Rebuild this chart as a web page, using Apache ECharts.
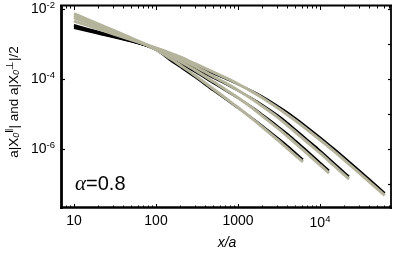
<!DOCTYPE html>
<html><head><meta charset="utf-8">
<script src="https://cdn.jsdelivr.net/npm/echarts@6/dist/echarts.min.js"></script>
<style>html,body{margin:0;padding:0;background:#fff}#c{width:395px;height:253px}</style>
</head><body><div id="c"></div>
<script>
// ---- data (x/a and amplitude values) ----
const x1 = [10,20,50,100,150,200,300,500,700,1000,1500,2000,3000,4000,5000,6200];
const x2 = [10,20,50,100,150,200,300,500,700,1000,1500,2000,3000,4000,5000,7000,10000,12900];
const x3 = [10,20,50,100,150,200,300,500,700,1000,1500,2000,3000,4000,5000,7000,10000,15000,20000,22600];
const x4 = [10,20,50,100,150,200,300,500,700,1000,1500,2000,3000,4000,5000,7000,10000,15000,20000,30000,50000,61700];

// perpendicular (grey) curves
const perp1 = [7.43e-3,3.71e-3,1.48e-3,6.92e-4,3.83e-4,2.43e-4,1.26e-4,5.18e-5,2.86e-5,1.53e-5,7.24e-6,4.17e-6,1.87e-6,1.04e-6,6.61e-7,4.26e-7];
const perp2 = [6.52e-3,3.40e-3,1.44e-3,7.29e-4,4.54e-4,3.12e-4,1.79e-4,8.43e-5,5.05e-5,2.92e-5,1.48e-5,8.65e-6,4.06e-6,2.31e-6,1.48e-6,7.40e-7,3.49e-7,2.06e-7];
const perp3 = [5.71e-3,3.10e-3,1.39e-3,7.48e-4,5.05e-4,3.72e-4,2.29e-4,1.19e-4,7.74e-5,4.79e-5,2.63e-5,1.64e-5,8.26e-6,4.75e-6,3.06e-6,1.56e-6,7.69e-7,3.27e-7,1.78e-7,1.39e-7];
const perp4 = [4.54e-3,2.67e-3,1.31e-3,7.69e-4,5.50e-4,4.23e-4,2.74e-4,1.58e-4,1.09e-4,7.19e-5,4.30e-5,2.87e-5,1.53e-5,9.53e-6,6.49e-6,3.56e-6,1.84e-6,8.41e-7,4.75e-7,2.09e-7,7.31e-8,4.71e-8];

// parallel (black) curves
const par1 = [3.49e-3,2.23e-3,1.23e-3,6.75e-4,3.40e-4,2.16e-4,1.12e-4,4.69e-5,2.68e-5,1.50e-5,7.53e-6,4.54e-6,2.13e-6,1.23e-6,7.79e-7,5.02e-7];
const par2 = [3.27e-3,2.13e-3,1.21e-3,7.06e-4,4.03e-4,2.77e-4,1.59e-4,7.64e-5,4.73e-5,2.86e-5,1.54e-5,9.42e-6,4.63e-6,2.72e-6,1.74e-6,8.72e-7,4.11e-7,2.43e-7];
const par3 = [3.06e-3,2.04e-3,1.19e-3,7.24e-4,4.48e-4,3.30e-4,2.03e-4,1.08e-4,7.24e-5,4.69e-5,2.74e-5,1.79e-5,9.42e-6,5.60e-6,3.61e-6,1.84e-6,9.07e-7,3.86e-7,2.10e-7,1.64e-7];
const par4 = [2.86e-3,1.95e-3,1.17e-3,7.53e-4,4.88e-4,3.76e-4,2.43e-4,1.43e-4,1.02e-4,7.05e-5,4.47e-5,3.13e-5,1.74e-5,1.12e-5,7.65e-6,4.20e-6,2.17e-6,9.92e-7,5.60e-7,2.46e-7,8.62e-8,5.55e-8];

// tick labels
const xTickValues = [10, 100, 1000, 10000];
const xTickLabels = ['10', '100', '1000', '{b|10}{s|4}'];
const yTickValues = [1e-6, 1e-4, 1e-2];
const yTickLabels = ['{b|10}{s|-6}', '{b|10}{s|-4}', '{b|10}{s|-2}'];

// ---- build ----
const L = Math.log10;
const xMin = 0.8415, xMax = 4.866, yMin = -7.686, yMax = -1.914;

function minorTicks(lo, hi) {
  const out = [];
  for (let n = Math.floor(lo) - 1; n <= Math.ceil(hi); n++) {
    for (let k = 1; k <= 9; k++) {
      const v = n + L(k);
      if (v > lo + 1e-6 && v < hi - 1e-6) out.push(v);
    }
  }
  return out;
}
function decades(lo, hi) {
  const out = [];
  for (let n = Math.ceil(lo); n <= Math.floor(hi); n++) out.push(n);
  return out;
}
const rich = {
  b: {fontSize: 14, fontFamily: 'Liberation Sans', color: '#000'},
  s: {fontSize: 9.5, fontFamily: 'Liberation Sans', color: '#000', padding: [0, 0, 8, 0]}
};
const xMajor = xTickValues.map(L), yMajor = yTickValues.map(L);

function xAxisDef(pos, customTicks, len, showLabel) {
  return {
    type: 'value', position: pos, min: xMin, max: xMax,
    axisLine: {show: false}, splitLine: {show: false},
    axisTick: {show: true, inside: true, length: len, customValues: customTicks, lineStyle: {color: '#000', width: 1}},
    axisLabel: showLabel ? {
      show: true, customValues: xMajor, margin: 6,
      formatter: v => { const i = xMajor.findIndex(t => Math.abs(t - v) < 1e-6); return i >= 0 ? xTickLabels[i] : ''; },
      fontSize: 14, fontFamily: 'Liberation Sans', color: '#000', rich: rich
    } : {show: false}
  };
}
function yAxisDef(pos, customTicks, len, showLabel) {
  return {
    type: 'value', position: pos, min: yMin, max: yMax,
    axisLine: {show: false}, splitLine: {show: false},
    axisTick: {show: true, inside: true, length: len, customValues: customTicks, lineStyle: {color: '#000', width: 1.2}},
    axisLabel: showLabel ? {
      show: true, customValues: yMajor, margin: 6,
      formatter: v => { const i = yMajor.findIndex(t => Math.abs(t - v) < 1e-6); return i >= 0 ? yTickLabels[i] : ''; },
      fontSize: 14, fontFamily: 'Liberation Sans', color: '#000', rich: rich
    } : {show: false}
  };
}

const GREY = '#b4b49c';
function series(xs, ys, color, w, z) {
  return {
    type: 'line', xAxisIndex: 0, yAxisIndex: 0, showSymbol: false, smooth: 0.3, z: z,
    lineStyle: {color: color, width: w, cap: 'butt'},
    data: xs.map((x, i) => [L(x), L(ys[i])])
  };
}

const chart = echarts.init(document.getElementById('c'), null, {renderer: 'canvas'});
chart.setOption({
  animation: false,
  backgroundColor: '#fff',
  grid: {left: 61, top: 6, width: 330, height: 202, show: true, borderWidth: 0},
  xAxis: [
    xAxisDef('bottom', xMajor, 4, true),
    xAxisDef('bottom', minorTicks(xMin, xMax), 2.5, false),
    xAxisDef('top', xMajor, 4, false),
    xAxisDef('top', minorTicks(xMin, xMax), 2.5, false)
  ],
  yAxis: [
    yAxisDef('left', yMajor, 4, true),
    yAxisDef('right', decades(yMin, yMax), 3, false)
  ],
  series: [
    series(x1, par1, '#000', 2, 2), series(x2, par2, '#000', 2, 2),
    series(x3, par3, '#000', 2, 2), series(x4, par4, '#000', 2, 2),
    series(x1, perp1, GREY, 3, 3), series(x2, perp2, GREY, 3, 3),
    series(x3, perp3, GREY, 3, 3), series(x4, perp4, GREY, 3, 3)
  ],
  graphic: [
    {type: 'line', shape: {x1: 60, y1: 207.5, x2: 392, y2: 207.5}, style: {stroke: '#000', lineWidth: 2.5}, z: 10},
    {type: 'line', shape: {x1: 61.5, y1: 5, x2: 61.5, y2: 209}, style: {stroke: '#000', lineWidth: 2.8}, z: 10},
    {type: 'line', shape: {x1: 60, y1: 5.5, x2: 392, y2: 5.5}, style: {stroke: '#000', lineWidth: 1.8}, z: 10},
    {type: 'line', shape: {x1: 391, y1: 5, x2: 391, y2: 209}, style: {stroke: '#000', lineWidth: 1.8}, z: 10},
    {type: 'text', x: 227, y: 243, style: {text: 'x/a', font: 'italic 14px "Liberation Sans"', fill: '#000', align: 'center', verticalAlign: 'middle'}},
    {type: 'text', x: 75, y: 184, style: {
      text: '{g|α}{n|=0.8}', fill: '#000', verticalAlign: 'middle', align: 'left',
      rich: {g: {fontFamily: 'Liberation Serif', fontStyle: 'italic', fontSize: 21, color: '#000'},
             n: {fontFamily: 'Liberation Sans', fontSize: 20, color: '#000'}}
    }},
    {type: 'text', x: 14, y: 102, rotation: Math.PI / 2, style: {
      text: '{n|a|X}{sub|0}{sup|‖}{n|| and a|X}{sub|0}{sup|⊥}{n||/2}', fill: '#000',
      align: 'center', verticalAlign: 'middle',
      rich: {
        n: {fontFamily: 'Liberation Sans', fontSize: 13.5, color: '#000'},
        sub: {fontFamily: 'Liberation Sans', fontStyle: 'italic', fontSize: 9, color: '#000', padding: [5, 0, 0, 0]},
        sup: {fontFamily: 'Liberation Sans', fontSize: 10, color: '#000', padding: [0, 0, 8, 0]}
      }
    }}
  ]
});
</script></body></html>
